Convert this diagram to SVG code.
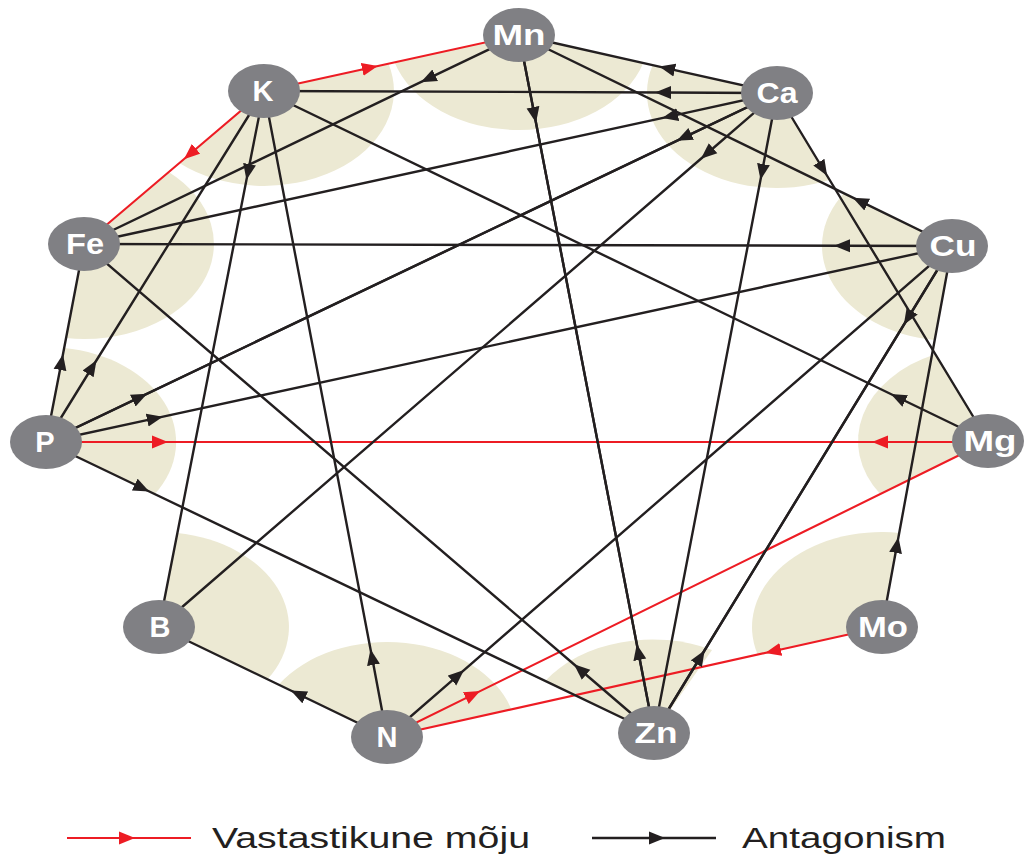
<svg xmlns="http://www.w3.org/2000/svg" width="1025" height="855" viewBox="0 0 1025 855">
  <style>
    .sector { fill: #ece9d3; stroke: none; }
    .ant { fill: none; stroke: #231f20; stroke-width: 2.4; marker-mid: url(#arrow-black); }
    .syn { fill: none; stroke: #ed1c24; stroke-width: 2.1; marker-mid: url(#arrow-red); }
    .node ellipse { fill: #808084; }
    .node text { fill: #ffffff; font-family: "Liberation Sans", Arial, sans-serif; font-size: 29px; font-weight: bold; text-anchor: middle; }
    .legend text { fill: #231f20; font-family: "Liberation Sans", Arial, sans-serif; font-size: 29px; }
  </style>
  <defs>
    <marker id="arrow-black" viewBox="-8 -7 16 14" markerWidth="16" markerHeight="14" refX="0" refY="0" orient="auto" markerUnits="userSpaceOnUse">
      <path d="M8,0 L-8,-6.5 L-8,6.5 Z" fill="#231f20"/>
    </marker>
    <marker id="arrow-red" viewBox="-8 -7 16 14" markerWidth="16" markerHeight="14" refX="0" refY="0" orient="auto" markerUnits="userSpaceOnUse">
      <path d="M8,0 L-8,-6.5 L-8,6.5 Z" fill="#ed1c24"/>
    </marker>
  </defs>

  <rect width="1025" height="855" fill="#ffffff"/>

  <!-- influence sectors around each element -->
  <g id="sectors">
    <path class="sector" d="M519,35 L643.3,62.9 A130,95 0 0 1 394.5,62.3 Z"/>
    <path class="sector" d="M264,91 L388.5,63.7 A130,95 0 0 1 179.3,163 Z"/>
    <path class="sector" d="M777,93 L829.7,179.8 A130,95 0 0 1 652.7,65.1 Z"/>
    <path class="sector" d="M84,244 L168.7,172 A130,95 0 0 1 65.9,338.1 Z"/>
    <path class="sector" d="M952,246 L934.7,340.1 A130,95 0 0 1 843.8,193.3 Z"/>
    <path class="sector" d="M988,441 L880.2,494.1 A130,95 0 0 1 935.3,354.2 Z"/>
    <path class="sector" d="M46,442 L64.1,347.9 A130,95 0 0 1 154.8,494.1 Z"/>
    <path class="sector" d="M159,627 L177.4,533 A130,95 0 0 1 267.5,679.3 Z"/>
    <path class="sector" d="M387,737 L278.5,684.7 A130,95 0 0 1 511.4,709.4 Z"/>
    <path class="sector" d="M654,733 L545.2,680.9 A130,95 0 0 1 712,650 Z"/>
    <path class="sector" d="M882,627 L757.6,654.6 A130,95 0 0 1 899.3,532.9 Z"/>
  </g>

  <!-- connectors: each path runs in the arrow's direction, arrow at the middle vertex -->
  <g id="connectors">
    <!-- synergy -->
    <path class="syn" d="M264,91 L370,67.7 L519,35"/>
    <path class="syn" d="M264,91 L190,154 L84,244"/>
    <path class="syn" d="M46,442 L160,442 L517,442"/>
    <path class="syn" d="M988,442 L880,442 L517,442"/>
    <path class="syn" d="M387,737 L473,694.6 L988,441"/>
    <path class="syn" d="M882,627 L773,651.2 L387,737"/>
    <!-- antagonism -->
    <path class="ant" d="M777,93 L663,92.5 L264,91"/>
    <path class="ant" d="M988,441 L898,397.5 L264,91"/>
    <path class="ant" d="M46,442 L92.3,367 L264,91"/>
    <path class="ant" d="M264,91 L248,172 L159,627"/>
    <path class="ant" d="M387,737 L372,657 L264,91"/>
    <path class="ant" d="M777,93 L667,68.3 L519,35"/>
    <path class="ant" d="M952,246 L860,201.2 L519,35"/>
    <path class="ant" d="M519,35 L534.5,115 L654,733"/>
    <path class="ant" d="M654,733 L638.3,652 L519,35"/>
    <path class="ant" d="M519,35 L428,78.7 L84,244"/>
    <path class="ant" d="M777,93 L670,116.3 L84,244"/>
    <path class="ant" d="M777,93 L684,137.4 L46,442"/>
    <path class="ant" d="M46,442 L140,397.1 L777,93"/>
    <path class="ant" d="M777,93 L707,153.5 L159,627"/>
    <path class="ant" d="M777,93 L762,172 L654,733"/>
    <path class="ant" d="M777,93 L823,169 L988,441"/>
    <path class="ant" d="M952,246 L842,245.7 L84,244"/>
    <path class="ant" d="M46,442 L155,418.4 L952,246"/>
    <path class="ant" d="M387,737 L458,675.3 L952,246"/>
    <path class="ant" d="M952,246 L908,318 L654,733"/>
    <path class="ant" d="M654,733 L700.5,657 L952,246"/>
    <path class="ant" d="M882,627 L897,545 L952,246"/>
    <path class="ant" d="M46,442 L61.5,362 L84,244"/>
    <path class="ant" d="M654,733 L580,669.5 L84,244"/>
    <path class="ant" d="M46,442 L142,488 L654,733"/>
    <path class="ant" d="M387,737 L298,694 L159,627"/>
  </g>

  <!-- elements -->
  <g id="node-Mn" class="node"><ellipse cx="519" cy="35" rx="36" ry="27"/><text x="519" y="44.5" textLength="53" lengthAdjust="spacingAndGlyphs">Mn</text></g>
  <g id="node-K" class="node"><ellipse cx="264" cy="91" rx="36" ry="27"/><text x="263" y="100.5">K</text></g>
  <g id="node-Ca" class="node"><ellipse cx="777" cy="93" rx="36" ry="27"/><text x="777" y="102.5" textLength="41" lengthAdjust="spacingAndGlyphs">Ca</text></g>
  <g id="node-Fe" class="node"><ellipse cx="84" cy="244" rx="36" ry="27"/><text x="85" y="253.5" textLength="38" lengthAdjust="spacingAndGlyphs">Fe</text></g>
  <g id="node-Cu" class="node"><ellipse cx="952" cy="246" rx="36" ry="27"/><text x="953" y="255.5" textLength="47" lengthAdjust="spacingAndGlyphs">Cu</text></g>
  <g id="node-P" class="node"><ellipse cx="46" cy="442" rx="36" ry="27"/><text x="45" y="451.5">P</text></g>
  <g id="node-Mg" class="node"><ellipse cx="988" cy="441" rx="36" ry="27"/><text x="990" y="450.5" textLength="53" lengthAdjust="spacingAndGlyphs">Mg</text></g>
  <g id="node-B" class="node"><ellipse cx="159" cy="627" rx="36" ry="27"/><text x="160" y="636.5">B</text></g>
  <g id="node-Mo" class="node"><ellipse cx="882" cy="627" rx="36" ry="27"/><text x="883" y="636.5" textLength="50" lengthAdjust="spacingAndGlyphs">Mo</text></g>
  <g id="node-N" class="node"><ellipse cx="387" cy="737" rx="36" ry="27"/><text x="387" y="746.5">N</text></g>
  <g id="node-Zn" class="node"><ellipse cx="654" cy="733" rx="36" ry="27"/><text x="656" y="742.5" textLength="43" lengthAdjust="spacingAndGlyphs">Zn</text></g>

  <!-- legend -->
  <g id="legend" class="legend">
    <path class="syn" d="M67,838 L127,838 L191,838"/>
    <text x="212" y="848" textLength="318" lengthAdjust="spacingAndGlyphs">Vastastikune mõju</text>
    <path class="ant" d="M592,838 L657,838 L716,838"/>
    <text x="742" y="848" textLength="204" lengthAdjust="spacingAndGlyphs">Antagonism</text>
  </g>
</svg>
